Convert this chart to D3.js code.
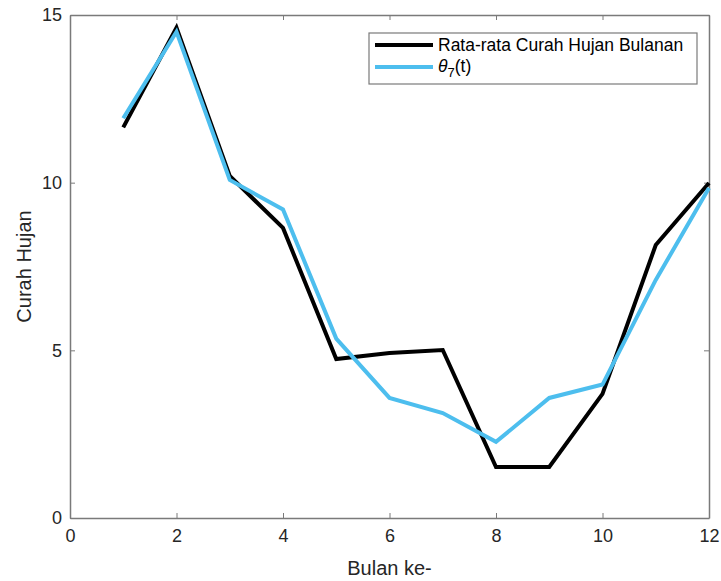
<!DOCTYPE html>
<html>
<head>
<meta charset="utf-8">
<script src="https://cdn.jsdelivr.net/npm/d3@7"></script>
<style>
  body { margin: 0; background: #fff; }
  svg { font-family: "Liberation Sans", Arial, sans-serif; }
</style>
</head>
<body>
<div class="graph_container"></div>
<script>
const w = 721;
const h = 581;
const margin = {left: 70, right: 12, top: 15, bottom: 63};

// data
const months = [1, 2, 3, 4, 5, 6, 7, 8, 9, 10, 11, 12];
const rataRata = [11.65, 14.62, 10.2, 8.65, 4.74, 4.92, 5.01, 1.52, 1.52, 3.7, 8.14, 9.99];
const theta7 = [11.92, 14.5, 10.08, 9.2, 5.35, 3.58, 3.13, 2.27, 3.58, 3.98, 7.1, 9.84];
const xTicks = [0, 2, 4, 6, 8, 10, 12];
const yTicks = [0, 5, 10, 15];

const axisColor = '#7a7a7a';
const textColor = '#262626';

const svg = d3.select('.graph_container').append('svg').attr('width', w).attr('height', h);

var xScale = d3.scaleLinear().domain([0, 12]).range([margin.left, w - margin.right]);
var yScale = d3.scaleLinear().domain([0, 15]).range([h - margin.bottom, margin.top]);

// box + inward ticks on all four sides
function styleAxis(g) {
  g.selectAll('path').attr('stroke', axisColor).attr('stroke-width', 1.5);
  g.selectAll('line').attr('stroke', axisColor).attr('stroke-width', 1);
  g.selectAll('text').attr('fill', textColor).style('font-size', '18px');
}

svg.append('g')
  .attr('transform', 'translate(0,' + (h - margin.bottom) + ')')
  .call(d3.axisBottom(xScale).tickValues(xTicks).tickSizeInner(-5).tickSizeOuter(0).tickPadding(11))
  .call(styleAxis);

svg.append('g')
  .attr('transform', 'translate(0,' + margin.top + ')')
  .call(d3.axisTop(xScale).tickValues(xTicks).tickSizeInner(-5).tickSizeOuter(0).tickFormat(''))
  .call(styleAxis);

svg.append('g')
  .attr('transform', 'translate(' + margin.left + ',0)')
  .call(d3.axisLeft(yScale).tickValues(yTicks).tickSizeInner(-5).tickSizeOuter(0).tickPadding(8))
  .call(styleAxis);

svg.append('g')
  .attr('transform', 'translate(' + (w - margin.right) + ',0)')
  .call(d3.axisRight(yScale).tickValues(yTicks).tickSizeInner(-5).tickSizeOuter(0).tickFormat(''))
  .call(styleAxis);

// lines
var line = d3.line().x((d, i) => xScale(months[i])).y(d => yScale(d));

svg.append('path')
  .datum(rataRata)
  .attr('d', line)
  .attr('fill', 'none')
  .attr('stroke', '#000')
  .attr('stroke-width', 4);

svg.append('path')
  .datum(theta7)
  .attr('d', line)
  .attr('fill', 'none')
  .attr('stroke', '#4DBEEE')
  .attr('stroke-width', 4);

// axis labels
svg.append('text')
  .attr('x', (margin.left + w - margin.right) / 2)
  .attr('y', 575)
  .attr('text-anchor', 'middle')
  .attr('fill', textColor)
  .style('font-size', '20px')
  .text('Bulan ke-');

svg.append('text')
  .attr('transform', 'translate(31,' + ((margin.top + h - margin.bottom) / 2) + ') rotate(-90)')
  .attr('text-anchor', 'middle')
  .attr('fill', textColor)
  .style('font-size', '20px')
  .text('Curah Hujan');

// legend
var legend = svg.append('g').attr('id', 'legend');
legend.append('rect')
  .attr('x', 369).attr('y', 33).attr('width', 328).attr('height', 51)
  .attr('fill', '#fff').attr('stroke', axisColor).attr('stroke-width', 1.2);

var items = [
  {color: '#000', y: 45},
  {color: '#4DBEEE', y: 67}
];
legend.selectAll('line.item')
  .data(items)
  .enter()
  .append('line')
  .attr('class', 'item')
  .attr('x1', 375).attr('x2', 433)
  .attr('y1', d => d.y).attr('y2', d => d.y)
  .attr('stroke', d => d.color)
  .attr('stroke-width', 4);

legend.append('text')
  .attr('x', 438).attr('y', 51)
  .attr('fill', '#000')
  .style('font-size', '17.5px')
  .text('Rata-rata Curah Hujan Bulanan');

var t2 = legend.append('text')
  .attr('x', 438).attr('y', 72)
  .attr('fill', '#000')
  .style('font-size', '17.5px');
t2.append('tspan').style('font-style', 'italic').text('\u03b8');
t2.append('tspan').attr('dy', 5).style('font-size', '13px').text('7');
t2.append('tspan').attr('dy', -5).text('(t)');
</script>
</body>
</html>
